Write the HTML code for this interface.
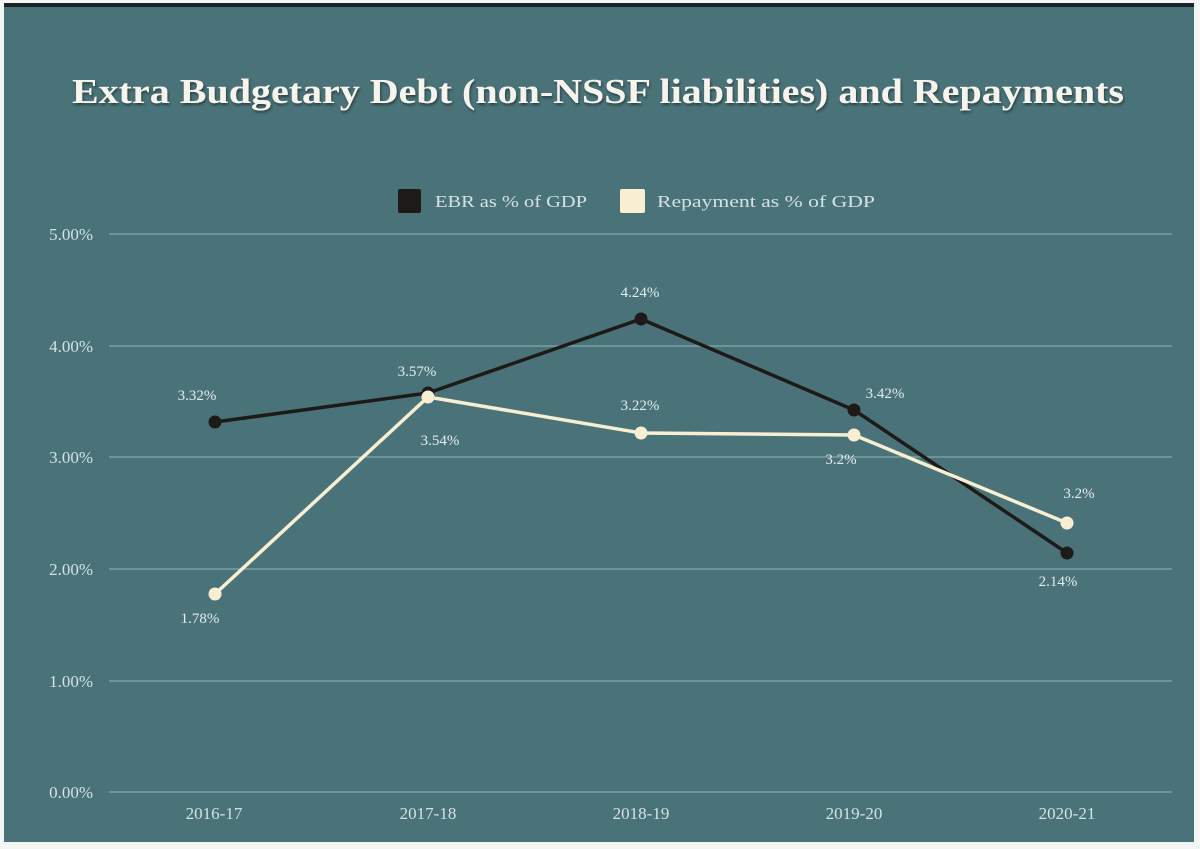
<!DOCTYPE html>
<html>
<head>
<meta charset="utf-8">
<style>
html,body{margin:0;padding:0;background:#ffffff;}
body{width:1200px;height:849px;overflow:hidden;}
svg{display:block;}
</style>
</head>
<body>
<svg width="1200" height="849" viewBox="0 0 1200 849" xmlns="http://www.w3.org/2000/svg">
  <rect x="0" y="0" width="1200" height="849" fill="#f4f6f6"/>
  <rect x="4" y="5" width="1190" height="837" fill="#4a7379"/>
  <rect x="4" y="3" width="1190" height="4" fill="#1c2326"/>
  <defs>
    <filter id="sh" x="-5%" y="-30%" width="110%" height="160%">
      <feDropShadow dx="1" dy="2" stdDeviation="1.2" flood-color="#1a2a2c" flood-opacity="0.7"/>
    </filter>
  </defs>
  <text x="72" y="103" font-family="Liberation Serif, serif" font-weight="bold" font-size="35" fill="#f7f4ee" textLength="1052" lengthAdjust="spacingAndGlyphs" filter="url(#sh)">Extra Budgetary Debt (non-NSSF liabilities) and Repayments</text>

  <!-- legend -->
  <rect x="398" y="189" width="23" height="24" rx="2" fill="#1e1a17"/>
  <text x="435" y="207" font-family="Liberation Serif, serif" font-size="17" fill="#d3e2e2" textLength="152" lengthAdjust="spacingAndGlyphs">EBR as % of GDP</text>
  <rect x="620" y="189" width="25" height="24" rx="2" fill="#f8efd3"/>
  <text x="657" y="207" font-family="Liberation Serif, serif" font-size="17" fill="#d3e2e2" textLength="218" lengthAdjust="spacingAndGlyphs">Repayment as % of GDP</text>

  <!-- gridlines -->
  <g stroke="#7aa0a3" stroke-width="1.5">
    <line x1="109" y1="234" x2="1172" y2="234"/>
    <line x1="109" y1="346" x2="1172" y2="346"/>
    <line x1="109" y1="457" x2="1172" y2="457"/>
    <line x1="109" y1="569" x2="1172" y2="569"/>
    <line x1="109" y1="681" x2="1172" y2="681"/>
    <line x1="109" y1="792" x2="1172" y2="792"/>
  </g>

  <!-- y labels -->
  <g font-family="Liberation Serif, serif" font-size="17" fill="#d3e2e2" text-anchor="end">
    <text x="93" y="240">5.00%</text>
    <text x="93" y="352">4.00%</text>
    <text x="93" y="463">3.00%</text>
    <text x="93" y="575">2.00%</text>
    <text x="93" y="687">1.00%</text>
    <text x="93" y="798">0.00%</text>
  </g>

  <!-- x labels -->
  <g font-family="Liberation Serif, serif" font-size="17" fill="#d3e2e2" text-anchor="middle">
    <text x="214" y="819">2016-17</text>
    <text x="428" y="819">2017-18</text>
    <text x="641" y="819">2018-19</text>
    <text x="854" y="819">2019-20</text>
    <text x="1067" y="819">2020-21</text>
  </g>

  <!-- EBR series -->
  <polyline points="215,422 428,393 641,319 854,410 1067,553" fill="none" stroke="#1e1a17" stroke-width="3.5" stroke-linejoin="round"/>
  <g fill="#1e1a17">
    <circle cx="215" cy="422" r="6.5"/>
    <circle cx="428" cy="393" r="6.5"/>
    <circle cx="641" cy="319" r="6.5"/>
    <circle cx="854" cy="410" r="6.5"/>
    <circle cx="1067" cy="553" r="6.5"/>
  </g>

  <!-- Repayment series -->
  <polyline points="215,594 428,397 641,433 854,435 1067,523" fill="none" stroke="#f8efd3" stroke-width="3.5" stroke-linejoin="round"/>
  <g fill="#f8efd3">
    <circle cx="215" cy="594" r="6.5"/>
    <circle cx="428" cy="397" r="6.5"/>
    <circle cx="641" cy="433" r="6.5"/>
    <circle cx="854" cy="435" r="6.5"/>
    <circle cx="1067" cy="523" r="6.5"/>
  </g>

  <!-- data labels -->
  <g font-family="Liberation Serif, serif" font-size="15" fill="#e3ecec" text-anchor="middle">
    <text x="197" y="400">3.32%</text>
    <text x="417" y="376">3.57%</text>
    <text x="440" y="445">3.54%</text>
    <text x="640" y="297">4.24%</text>
    <text x="640" y="410">3.22%</text>
    <text x="885" y="398">3.42%</text>
    <text x="841" y="464">3.2%</text>
    <text x="1079" y="498">3.2%</text>
    <text x="1058" y="586">2.14%</text>
    <text x="200" y="623">1.78%</text>
  </g>
</svg>
</body>
</html>
